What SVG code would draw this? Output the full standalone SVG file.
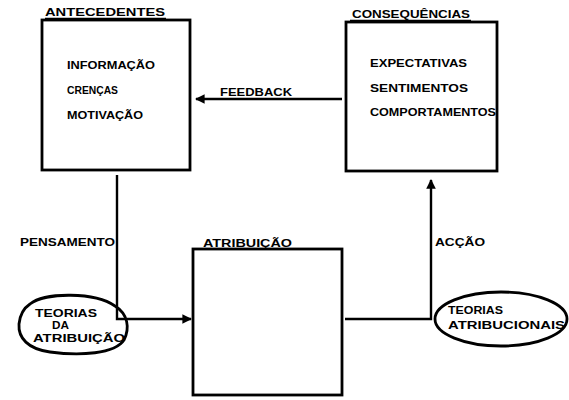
<svg xmlns="http://www.w3.org/2000/svg" width="569" height="400" viewBox="0 0 569 400">
<style>
.box{fill:none;stroke:#000;stroke-width:2.8}
.ln{fill:none;stroke:#000;stroke-width:2.4}
.ul{stroke:#000;stroke-width:1.6}
.t{font-family:"Liberation Sans",Arial,sans-serif;font-weight:bold;font-size:11px;fill:#000}
</style>
<defs>
<marker id="ah" viewBox="0 0 10 10" refX="9" refY="5" markerWidth="4" markerHeight="4" orient="auto" markerUnits="strokeWidth">
<path d="M0,0 L10,5 L0,10 Z" fill="#000"/>
</marker>
</defs>
<rect width="569" height="400" fill="#fff"/>
<g id="antecedentes">
<rect class="box" x="42" y="20" width="148" height="150"/>
<text class="t" x="45" y="16" textLength="120" lengthAdjust="spacingAndGlyphs">ANTECEDENTES</text>
<line class="ul" x1="45" y1="18.5" x2="166" y2="18.5"/>
<text class="t" x="67" y="69" textLength="88" lengthAdjust="spacingAndGlyphs">INFORMAÇÃO</text>
<text class="t" x="67" y="94" textLength="51" lengthAdjust="spacingAndGlyphs">CRENÇAS</text>
<text class="t" x="67" y="119" textLength="76" lengthAdjust="spacingAndGlyphs">MOTIVAÇÃO</text>
</g>
<g id="consequencias">
<rect class="box" x="346" y="22" width="151" height="149"/>
<text class="t" x="352" y="18" textLength="118" lengthAdjust="spacingAndGlyphs">CONSEQUÊNCIAS</text>
<line class="ul" x1="350" y1="20.5" x2="471" y2="20.5"/>
<text class="t" x="370" y="67" textLength="97" lengthAdjust="spacingAndGlyphs">EXPECTATIVAS</text>
<text class="t" x="370" y="92" textLength="98" lengthAdjust="spacingAndGlyphs">SENTIMENTOS</text>
<text class="t" x="370" y="116" textLength="126" lengthAdjust="spacingAndGlyphs">COMPORTAMENTOS</text>
</g>
<g id="atribuicao">
<rect class="box" x="193" y="249" width="149" height="146"/>
<text class="t" x="203" y="247" textLength="89" lengthAdjust="spacingAndGlyphs">ATRIBUIÇÃO</text>
</g>
<g id="teorias-da-atribuicao">
<path class="box" d="M30,304 C45,292 95,292 115,306 C128,314 130,328 124,340 C115,354 80,356 50,352 C28,349 18,338 19,324 C20,314 24,308 30,304 Z"/>
<text class="t" x="35" y="317" textLength="62" lengthAdjust="spacingAndGlyphs">TEORIAS</text>
<text class="t" x="52" y="329" textLength="17" lengthAdjust="spacingAndGlyphs">DA</text>
<text class="t" x="33" y="342" textLength="92" lengthAdjust="spacingAndGlyphs">ATRIBUIÇÃO</text>
</g>
<g id="teorias-atribucionais">
<ellipse class="box" cx="501" cy="319" rx="66" ry="27"/>
<text class="t" x="448" y="314" textLength="55" lengthAdjust="spacingAndGlyphs">TEORIAS</text>
<text class="t" x="448" y="329" textLength="117" lengthAdjust="spacingAndGlyphs">ATRIBUCIONAIS</text>
</g>
<g id="connectors">
<line class="ln" x1="342" y1="99" x2="196" y2="99" marker-end="url(#ah)"/>
<text class="t" x="220" y="96" textLength="72" lengthAdjust="spacingAndGlyphs">FEEDBACK</text>
<polyline class="ln" points="117,175 117,319 191,319" marker-end="url(#ah)"/>
<text class="t" x="20" y="246" textLength="95" lengthAdjust="spacingAndGlyphs">PENSAMENTO</text>
<polyline class="ln" points="345,319 431,319 431,180" marker-end="url(#ah)"/>
<text class="t" x="435" y="246" textLength="50" lengthAdjust="spacingAndGlyphs">ACÇÃO</text>
</g>
</svg>
